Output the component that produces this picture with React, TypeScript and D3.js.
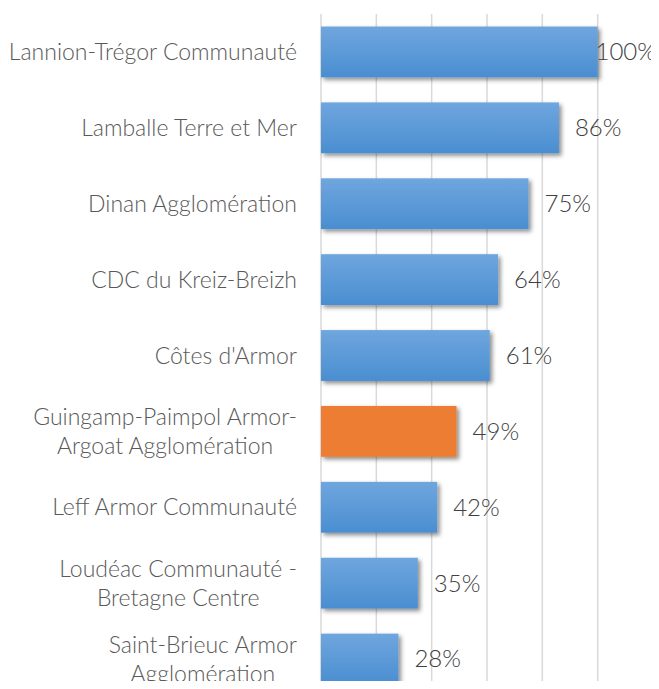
import React, { useEffect, useRef } from "react";
import * as d3 from "d3";

const categories = [
  "Lannion-Trégor Communauté",
  "Lamballe Terre et Mer",
  "Dinan Agglomération",
  "CDC du Kreiz-Breizh",
  "Côtes d'Armor",
  "Guingamp-Paimpol Armor-|Argoat Agglomération",
  "Leff Armor Communauté",
  "Loudéac Communauté -|Bretagne Centre",
  "Saint-Brieuc Armor|Agglomération",
];
const values = [1.0, 0.86, 0.75, 0.64, 0.61, 0.49, 0.42, 0.35, 0.28];
const highlight = "Guingamp-Paimpol Armor-|Argoat Agglomération";
const gridTicks = [0, 0.2, 0.4, 0.6, 0.8, 1.0, 1.2];

const W = 659;
const H = 689;
const FONT = "Lato, sans-serif";

export default function App() {
  const ref = useRef<SVGSVGElement>(null);

  useEffect(() => {
    const svg = d3.select(ref.current);
    svg.selectAll("*").remove();

    const x = d3.scaleLinear().domain([0, 1.2]).range([321, 653]);
    const y = d3.scaleBand().domain(categories).range([14, 697]).paddingInner(0.33).paddingOuter(0.165);

    const defs = svg.append("defs");
    const grad = defs.append("linearGradient").attr("id", "blueGrad").attr("x1", 0).attr("y1", 0).attr("x2", 0).attr("y2", 1);
    grad.append("stop").attr("offset", "0%").attr("stop-color", "#6fa6de");
    grad.append("stop").attr("offset", "100%").attr("stop-color", "#4a8ed1");
    defs.append("filter").attr("id", "shadow").attr("x", "-10%").attr("y", "-20%").attr("width", "130%").attr("height", "160%")
      .append("feDropShadow").attr("dx", 2.5).attr("dy", 2.5).attr("stdDeviation", 2).attr("flood-color", "#000").attr("flood-opacity", 0.45);

    // gridlines
    svg.append("g").selectAll("line").data(gridTicks).join("line")
      .attr("x1", d => x(d)).attr("x2", d => x(d))
      .attr("y1", 14).attr("y2", H)
      .attr("stroke", "#d9d9d9").attr("stroke-width", 1.5);

    const rows = categories.map((c, i) => ({ c, v: values[i] }));

    svg.append("g").selectAll("rect").data(rows).join("rect")
      .attr("x", x(0))
      .attr("y", d => y(d.c)!)
      .attr("width", d => x(d.v) - x(0))
      .attr("height", y.bandwidth())
      .attr("fill", d => (d.c === highlight ? "#ed7d31" : "url(#blueGrad)"))
      .attr("filter", "url(#shadow)");

    // value labels
    const vl = svg.append("g").selectAll("text").data(rows).join("text")
      .attr("y", d => y(d.c)! + y.bandwidth() / 2)
      .attr("dy", "0.35em")
      .attr("font-family", FONT)
      .attr("font-weight", 300)
      .attr("font-size", 24)
      .attr("fill", "#404040")
      .text(d => Math.round(d.v * 100) + "%");
    vl.each(function (d) {
      const t = this as SVGTextElement;
      const w = t.getComputedTextLength();
      t.setAttribute("x", String(Math.min(x(d.v) + 16, 656 - w)));
    });

    // category labels
    const lineH = 29;
    rows.forEach(d => {
      const lines = d.c.split("|");
      const cy = y(d.c)! + y.bandwidth() / 2;
      const g = svg.append("g");
      const texts = lines.map((ln, k) =>
        g.append("text")
          .attr("y", cy + (k - (lines.length - 1) / 2) * lineH)
          .attr("dy", "0.35em")
          .attr("font-family", FONT)
          .attr("font-weight", 300)
          .attr("font-size", 23)
          .attr("fill", "#595959")
          .attr("text-anchor", "middle")
          .text(ln)
      );
      const maxW = d3.max(texts, t => (t.node() as SVGTextElement).getComputedTextLength()) || 0;
      texts.forEach(t => t.attr("x", 297 - maxW / 2));
    });
  }, []);

  return <svg ref={ref} width={W} height={H} style={{ display: "block", margin: -8 }} />;
}
